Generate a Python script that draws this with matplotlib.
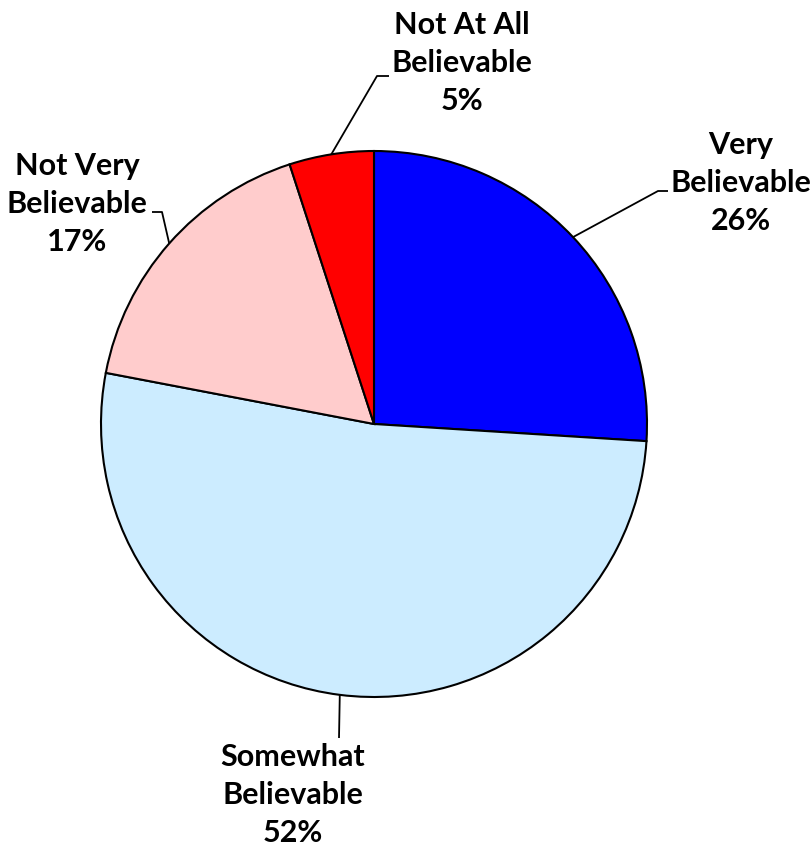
import numpy as np
import matplotlib
matplotlib.use("Agg")
import matplotlib.pyplot as plt

# slices in clockwise order starting at 12 o'clock
labels = ["Very\nBelievable", "Somewhat\nBelievable", "Not Very\nBelievable", "Not At All\nBelievable"]
values = [26, 52, 17, 5]
colors = ["#0000FF", "#CCECFF", "#FFCCCC", "#FF0000"]

W, H = 811, 848
cx, cy, R = 374, H - 424, 273

# label block centre, elbow point, end of short horizontal tick (pixels, y from top)
lab_pos = [(741, 183), (293, 795), (77, 204), (462, 63)]
elbows = [(658, 191), (339, 738), (162, 212), (377, 76)]
ticks = [(668, 191), None, (152, 212), (389, 76)]

plt.rcParams['font.family'] = ['Lato', 'DejaVu Sans']

fig = plt.figure(figsize=(W / 100, H / 100), dpi=100)
ax = fig.add_axes([0, 0, 1, 1])

wedges, _ = ax.pie(values, colors=colors, startangle=90, counterclock=False,
                   center=(cx, cy), radius=R,
                   wedgeprops=dict(edgecolor="black", linewidth=1.5))

for w, lab, v, pos, elb, tk in zip(wedges, labels, values, lab_pos, elbows, ticks):
    mid = np.deg2rad((w.theta1 + w.theta2) / 2)
    x0, y0 = cx + R * np.cos(mid), cy + R * np.sin(mid)
    xs = [x0, elb[0]]
    ys = [y0, H - elb[1]]
    if tk is not None:
        xs.append(tk[0])
        ys.append(H - tk[1])
    ax.plot(xs, ys, color="black", lw=1.3, solid_capstyle="butt")
    ax.text(pos[0], H - pos[1], f"{lab}\n{v}%", ha="center", va="center",
            fontsize=22, fontweight="bold", linespacing=1.42)

ax.set_xlim(0, W)
ax.set_ylim(0, H)
ax.set_aspect("equal")
ax.axis("off")

fig.savefig("out.png", dpi=100)
